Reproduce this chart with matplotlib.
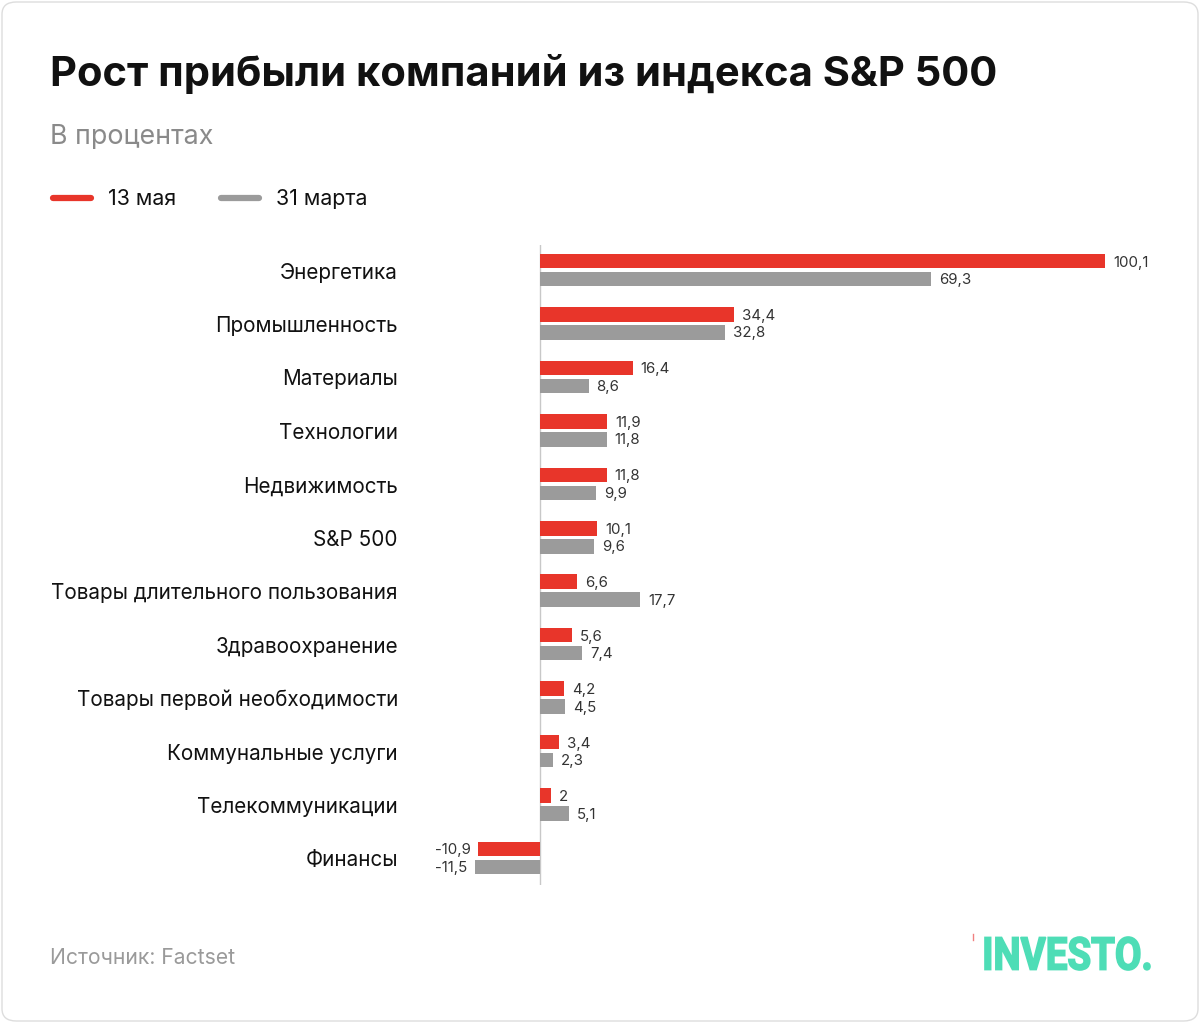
import matplotlib.pyplot as plt
from matplotlib.patches import FancyBboxPatch, PathPatch
from matplotlib.textpath import TextPath
from matplotlib.font_manager import FontProperties
from matplotlib.transforms import Affine2D
import numpy as np

plt.rcParams['font.family'] = ['Inter', 'DejaVu Sans']

categories = [
    "Энергетика", "Промышленность", "Материалы", "Технологии",
    "Недвижимость", "S&P 500", "Товары длительного пользования",
    "Здравоохранение", "Товары первой необходимости",
    "Коммунальные услуги", "Телекоммуникации", "Финансы",
]
may13 = [100.1, 34.4, 16.4, 11.9, 11.8, 10.1, 6.6, 5.6, 4.2, 3.4, 2, -10.9]
mar31 = [69.3, 32.8, 8.6, 11.8, 9.9, 9.6, 17.7, 7.4, 4.5, 2.3, 5.1, -11.5]
series_names = ["13 мая", "31 марта"]

RED = "#E8352A"
GRAY = "#9B9B9B"
W, H = 1200, 1023

fig = plt.figure(figsize=(W / 100, H / 100), dpi=100)
fig.patch.set_facecolor("white")

# rounded frame around the card
fig.patches.append(FancyBboxPatch((2 / W, 2 / H), 1 - 4 / W, 1 - 4 / H,
                                  boxstyle="round,pad=0,rounding_size=0.012",
                                  transform=fig.transFigure, fill=False,
                                  edgecolor="#DDDDDD", linewidth=1))

# axes placement in pixels
zero_px = 540
scale = 565 / 100.1
ax_l, ax_r, ax_t, ax_b = 440, 1160, 245, 885
ax = fig.add_axes([ax_l / W, 1 - ax_b / H, (ax_r - ax_l) / W, (ax_b - ax_t) / H])
ax.set_xlim((ax_l - zero_px) / scale, (ax_r - zero_px) / scale)
step = 53.45
ax.set_ylim(11 + 27 / step, -25 / step)

y = np.arange(len(categories))
off = 9 / step
h = 14.5 / step
ax.barh(y - off, may13, height=h, color=RED, zorder=2)
ax.barh(y + off, mar31, height=h, color=GRAY, zorder=2)
ax.axvline(0, color="#C8C8C8", linewidth=1, zorder=1)


def fmt(v):
    return f"{v:g}".replace(".", ",")


pad = 8 / scale
for vals, yy in [(may13, y - off + 1.5 / step), (mar31, y + off + 1 / step)]:
    for yi, v in zip(yy, vals):
        ax.text(v + pad if v >= 0 else v - pad, yi, fmt(v),
                ha="left" if v >= 0 else "right",
                va="center", fontsize=10.8, color="#333333")

for yi, c in zip(y + 2.5 / step, categories):
    ax.text((398 - zero_px) / scale, yi, c, ha="right", va="center",
            fontsize=14.9, color="#111111", clip_on=False)

ax.set_axis_off()

# title, subtitle
fig.text(50 / W, 1 - 74 / H, "Рост прибыли компаний из индекса S&P 500",
         fontsize=30, fontweight="bold", color="#111111", va="center", ha="left")
fig.text(50 / W, 1 - 137 / H, "В процентах", fontsize=19.3, color="#8A8A8A",
         va="center", ha="left")

# legend
for x0, col, name in [(50, RED, series_names[0]), (218, GRAY, series_names[1])]:
    fig.add_artist(plt.Line2D([(x0 + 3) / W, (x0 + 41) / W], [1 - 198 / H, 1 - 198 / H],
                              transform=fig.transFigure, color=col, linewidth=4.5,
                              solid_capstyle="round"))
    fig.text((x0 + 58) / W, 1 - 199 / H, name, fontsize=15.4, color="#111111",
             va="center", ha="left")

# footer
fig.text(50 / W, 1 - 958 / H, "Источник: Factset", fontsize=15.2, color="#9A9A9A",
         va="center", ha="left")
fig.add_artist(plt.Line2D([973 / W, 973 / W], [1 - 934 / H, 1 - 940 / H],
                          transform=fig.transFigure, color="#F08080", linewidth=1))

# logo: bold text squeezed into its box (pixels 985..1150 x 937..970)
tp = TextPath((0, 0), "INVESTO.", size=100,
              prop=FontProperties(family="Roboto", weight="bold"))
bb = tp.get_extents()
x0, x1, y_top, y_bot = 985, 1150, 937, 970
tr = (Affine2D().translate(-bb.x0, -bb.y0)
      .scale((x1 - x0) / bb.width, (y_bot - y_top) / bb.height)
      .translate(x0, H - y_bot)
      .scale(1 / W, 1 / H))
fig.patches.append(PathPatch(tr.transform_path(tp), transform=fig.transFigure,
                             facecolor="#4EDDB6", edgecolor="#4EDDB6", linewidth=1.2))

fig.savefig("out.png", dpi=100, facecolor="white")
